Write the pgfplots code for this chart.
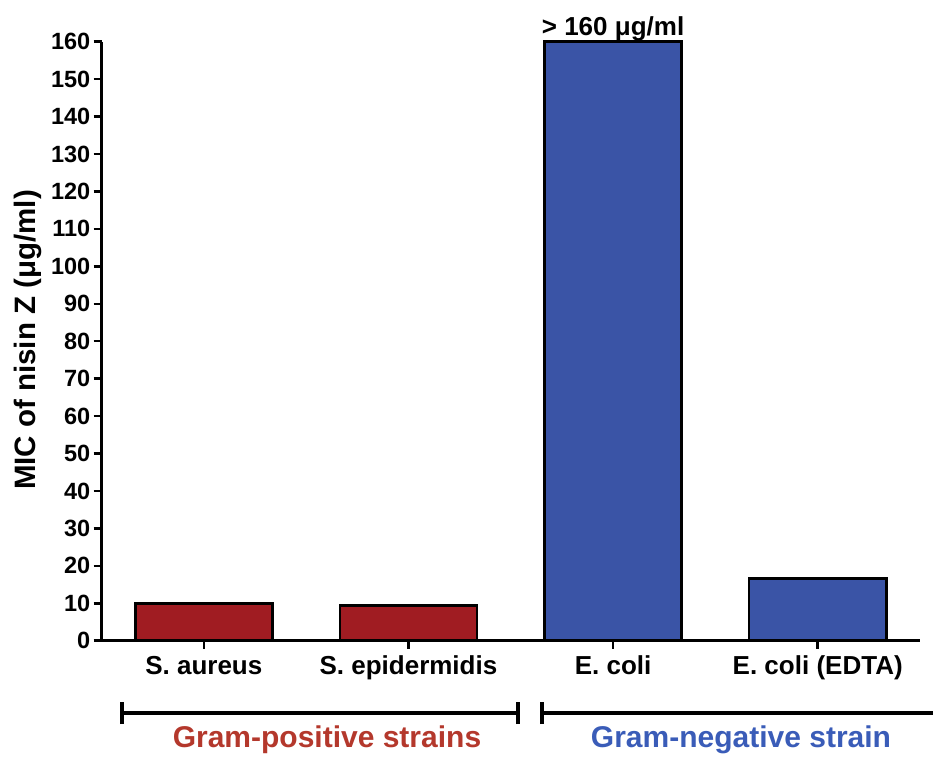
\documentclass[border=0pt]{standalone}
\usepackage{pgfplots}
\pgfplotsset{compat=1.18}
\usepackage{fontspec}
\setmainfont{Liberation Sans}
\definecolor{barred}{HTML}{A01C22}
\definecolor{barblue}{HTML}{3A54A6}
\definecolor{txtred}{HTML}{B4382C}
\definecolor{txtblue}{HTML}{3A5CB8}
\begin{document}
\begin{tikzpicture}[x=1pt,y=1pt]
\useasboundingbox (0,0) rectangle (933,756);
\begin{axis}[
  at={(101.5pt,115.3pt)}, anchor=south west,
  scale only axis, width=818.5pt, height=599pt,
  xmin=-0.5, xmax=3.5, ymin=0, ymax=160,
  axis lines*=left,
  axis line style={line width=3pt},
  ytick={0,10,...,160},
  xtick={0,1,2,3},
  xticklabels={S. aureus, S. epidermidis, E. coli, E. coli (EDTA)},
  tick align=outside, major tick length=8pt,
  tick style={line width=2.5pt, black},
  /pgf/number format/assume math mode=true,
  yticklabel style={font=\fontsize{23.5}{26}\selectfont\bfseries, inner xsep=3pt},
  xticklabel style={font=\fontsize{26}{28}\selectfont\bfseries, inner ysep=7pt},
  ybar, bar width=0.67, bar shift=0pt,
  clip=false,
]
\addplot[fill=barred, draw=black, line width=2.5pt] coordinates {(0,10) (1,9.4)};
\addplot[fill=barblue, draw=black, line width=2.5pt] coordinates {(2,160) (3,16.6)};
\node[anchor=base, font=\fontsize{26}{28}\selectfont\bfseries, yshift=6pt] at (axis cs:2,160) {> 160 μg/ml};
\end{axis}
\node[rotate=90, font=\fontsize{29.5}{32}\selectfont\bfseries] at (28,416) {MIC of nisin Z (μg/ml)};
\draw[line width=4pt] (122,43) -- (518,43);
\draw[line width=4pt] (122,32) -- (122,54);
\draw[line width=4pt] (518,32) -- (518,54);
\draw[line width=4pt] (542,43) -- (945,43);
\draw[line width=4pt] (542,32) -- (542,54);
\node[font=\fontsize{30}{32}\selectfont\bfseries, text=txtred] at (327,16) {Gram-positive strains};
\node[font=\fontsize{30}{32}\selectfont\bfseries, text=txtblue] at (741,16) {Gram-negative strain};
\end{tikzpicture}
\end{document}
